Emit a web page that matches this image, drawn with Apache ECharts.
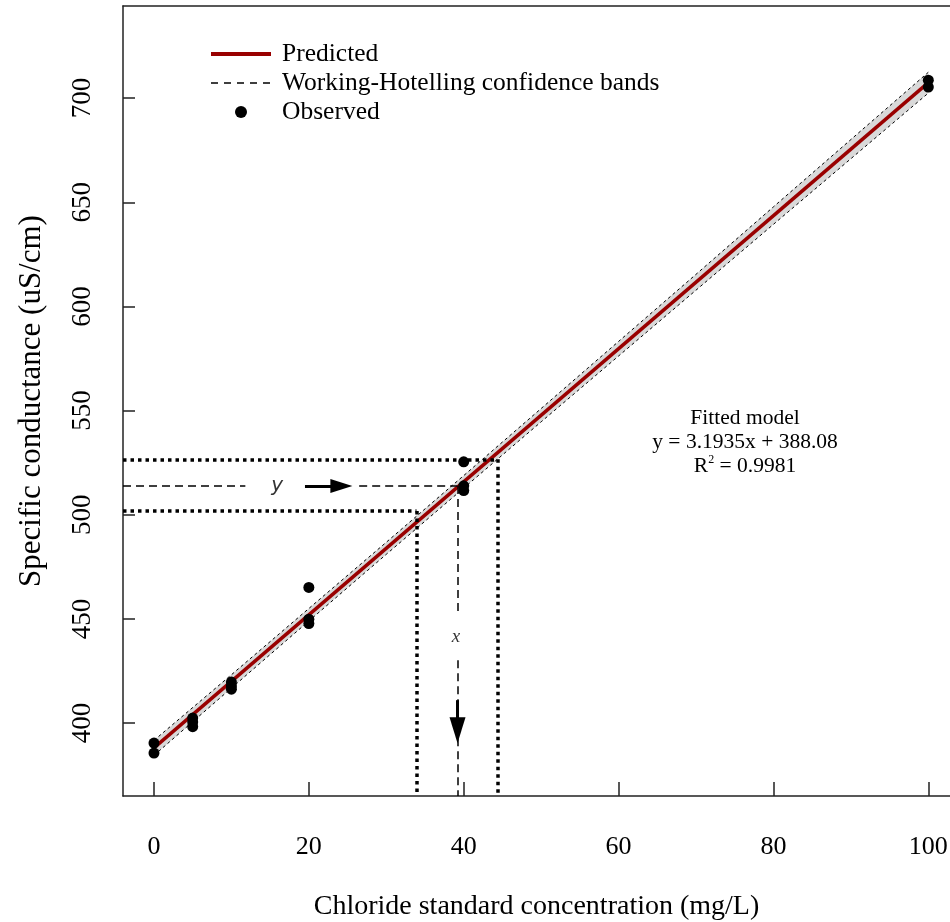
<!DOCTYPE html>
<html>
<head>
<meta charset="utf-8">
<script src="https://cdn.jsdelivr.net/npm/echarts@6/dist/echarts.min.js"></script>
<style>
  html, body { margin: 0; padding: 0; background: #fff; }
  #main { width: 950px; height: 922px; }
</style>
</head>
<body>
<div id="main"></div>
<script>
// 观测值
var obsX = [0, 0, 5, 5, 5, 10, 10, 10, 20, 20, 20, 40, 40, 40, 100, 100];
var obsY = [390.4, 385.6, 402.4, 400.5, 398.3, 419.7, 417.8, 416.3, 465.1, 449.9, 447.8, 525.4, 513.9, 511.6, 708.6, 705.3];

// 拟合直线 y = 3.1935x + 388.08
var predX = [0, 100];
var predY = [388.08, 707.43];

// Working-Hotelling 置信带
var bandX = [0, 10, 20, 30, 40, 50, 60, 70, 80, 90, 100];
var bandUpper = [391.7, 423.2, 455.0, 486.8, 518.8, 551.0, 583.2, 615.4, 647.8, 680.1, 712.4];
var bandLower = [384.5, 416.8, 449.0, 481.0, 512.8, 544.6, 576.2, 607.8, 639.4, 670.9, 702.4];

// 刻度
var xTicks = [0, 20, 40, 60, 80, 100];
var yTicks = [400, 450, 500, 550, 600, 650, 700];

// 反向预测辅助线
var yObs = 513.8;        // 观测响应
var xEst = 39.2;         // 估计浓度
var yLow = 501.8, xLow = 33.9;
var yHigh = 526.6, xHigh = 44.4;

var FONT = 'Liberation Serif';
var AXIS_COLOR = '#222';
var RED = '#990000';

function zip(a, b) {
    return a.map(function (v, i) { return [v, b[i]]; });
}

var myChart = echarts.init(document.getElementById('main'));

var axisLineStyle = { color: AXIS_COLOR, width: 1.5 };
var noDot = { color: 'rgba(0,0,0,0)', opacity: 0, borderWidth: 0 };

myChart.setOption({
    animation: false,
    backgroundColor: '#fff',
    grid: { left: 123, right: 0, top: 6, bottom: 126, containLabel: false, outerBoundsMode: 'none' },
    legend: {
        orient: 'vertical',
        left: 204,
        top: 36,
        itemWidth: 60,
        itemHeight: 12,
        itemGap: 3,
        data: [
            { name: 'Predicted', itemStyle: noDot, lineStyle: { color: RED, width: 4 } },
            { name: 'Working-Hotelling confidence bands', itemStyle: noDot, lineStyle: { color: '#000', width: 1.5, type: [7, 6] } },
            { name: 'Observed' }
        ],
        textStyle: { fontFamily: FONT, fontSize: 25.5, color: '#000', padding: [0, 0, 0, 6] }
    },
    xAxis: [{
        type: 'value',
        min: -4,
        max: 102.8,
        position: 'bottom',
        name: 'Chloride standard concentration (mg/L)',
        nameLocation: 'middle',
        nameGap: 97,
        nameTextStyle: { fontFamily: FONT, fontSize: 28, color: '#000' },
        axisLine: { show: true, onZero: false, lineStyle: axisLineStyle },
        axisTick: { show: true, inside: true, length: 14, customValues: xTicks, lineStyle: axisLineStyle },
        axisLabel: { customValues: xTicks, fontFamily: FONT, fontSize: 26, color: '#000', margin: 38 },
        splitLine: { show: false }
    }, {
        type: 'value',
        min: -4,
        max: 102.8,
        position: 'top',
        axisLine: { show: true, onZero: false, lineStyle: axisLineStyle },
        axisTick: { show: false },
        axisLabel: { show: false },
        splitLine: { show: false }
    }],
    yAxis: {
        type: 'value',
        min: 365,
        max: 744.2,
        name: 'Specific conductance (uS/cm)',
        nameLocation: 'middle',
        nameGap: 76,
        nameTextStyle: { fontFamily: FONT, fontSize: 31, color: '#000' },
        axisLine: { show: true, onZero: false, lineStyle: axisLineStyle },
        axisTick: { show: true, inside: true, length: 12, customValues: yTicks, lineStyle: axisLineStyle },
        axisLabel: { customValues: yTicks, rotate: 90, fontFamily: FONT, fontSize: 27, color: '#000', margin: 27 },
        splitLine: { show: false }
    },
    graphic: [{
        type: 'text',
        x: 745,
        y: 406,
        style: {
            text: 'Fitted model\ny = 3.1935x + 388.08\nR{sup|2} = 0.9981',
            align: 'center',
            verticalAlign: 'top',
            fontFamily: FONT,
            fontSize: 21.5,
            lineHeight: 24,
            fill: '#000',
            rich: {
                sup: { fontFamily: FONT, fontSize: 12, verticalAlign: 'top', padding: [0, 0, 9, 0], lineHeight: 24 }
            }
        }
    }],
    series: [
        {
            // 灰色置信带
            type: 'custom',
            silent: true,
            data: [[bandX[0], bandLower[0]]],
            renderItem: function (params, api) {
                var pts = [];
                for (var i = 0; i < bandX.length; i++) pts.push(api.coord([bandX[i], bandUpper[i]]));
                for (var j = bandX.length - 1; j >= 0; j--) pts.push(api.coord([bandX[j], bandLower[j]]));
                return { type: 'polygon', shape: { points: pts }, style: { fill: '#d9d9d9' } };
            },
            z: 1
        },
        {
            name: 'Working-Hotelling confidence bands',
            type: 'line',
            data: zip(bandX, bandUpper),
            symbol: 'none',
            silent: true,
            itemStyle: { color: '#000' },
            lineStyle: { color: '#000', width: 1, type: [3, 3] },
            z: 2
        },
        {
            name: 'Working-Hotelling confidence bands',
            type: 'line',
            data: zip(bandX, bandLower),
            symbol: 'none',
            silent: true,
            itemStyle: { color: '#000' },
            lineStyle: { color: '#000', width: 1, type: [3, 3] },
            z: 2
        },
        {
            name: 'Predicted',
            type: 'line',
            data: zip(predX, predY),
            symbol: 'none',
            silent: true,
            itemStyle: { color: RED },
            lineStyle: { color: RED, width: 3.5 },
            z: 3
        },
        {
            // 辅助线 + 文字 y
            type: 'scatter',
            data: [[15.9, yObs]],
            symbolSize: 1,
            silent: true,
            itemStyle: { color: 'transparent' },
            label: {
                show: true,
                position: 'inside',
                formatter: 'y',
                fontFamily: 'DejaVu Sans',
                fontStyle: 'italic',
                fontSize: 20,
                color: '#000'
            },
            markLine: {
                silent: true,
                symbol: ['none', 'none'],
                label: { show: false },
                emphasis: { disabled: true },
                data: [
                    [{ coord: [-4, yHigh], lineStyle: { type: [3.5, 4], width: 3.5, color: '#000' } }, { coord: [xHigh, yHigh] }],
                    [{ coord: [xHigh, yHigh], lineStyle: { type: [3.5, 4], width: 3.5, color: '#000' } }, { coord: [xHigh, 365] }],
                    [{ coord: [-4, yLow], lineStyle: { type: [3.5, 4], width: 3.5, color: '#000' } }, { coord: [xLow, yLow] }],
                    [{ coord: [xLow, yLow], lineStyle: { type: [3.5, 4], width: 3.5, color: '#000' } }, { coord: [xLow, 365] }],
                    [{ coord: [-4, yObs], lineStyle: { type: [8, 5], width: 1.5, color: '#000' } }, { coord: [11.8, yObs] }],
                    [{ coord: [26.5, yObs], lineStyle: { type: [8, 5], width: 1.5, color: '#000' } }, { coord: [xEst, yObs] }],
                    [{ coord: [xEst, yObs], lineStyle: { type: [8, 5], width: 1.5, color: '#000' } }, { coord: [xEst, 453.3] }],
                    [{ coord: [xEst, 430.2], lineStyle: { type: [8, 5], width: 1.5, color: '#000' } }, { coord: [xEst, 365] }],
                    [{ coord: [19.5, yObs], lineStyle: { type: 'solid', width: 3, color: '#000' } },
                     { coord: [24.2, yObs], symbol: 'triangle', symbolSize: [14, 22] }],
                    [{ coord: [xEst, 411], lineStyle: { type: 'solid', width: 3, color: '#000' } },
                     { coord: [xEst, 396.6], symbol: 'triangle', symbolSize: [16, 26] }]
                ]
            },
            z: 4
        },
        {
            // 文字 x
            type: 'scatter',
            data: [[39.0, 441.3]],
            symbolSize: 1,
            silent: true,
            itemStyle: { color: 'transparent' },
            label: {
                show: true,
                position: 'inside',
                formatter: 'x',
                fontFamily: FONT,
                fontStyle: 'italic',
                fontSize: 19,
                color: '#000'
            },
            z: 4
        },
        {
            name: 'Observed',
            type: 'scatter',
            data: zip(obsX, obsY),
            symbol: 'circle',
            symbolSize: 11,
            itemStyle: { color: '#000', opacity: 1 },
            z: 5
        }
    ]
});
</script>
</body>
</html>
